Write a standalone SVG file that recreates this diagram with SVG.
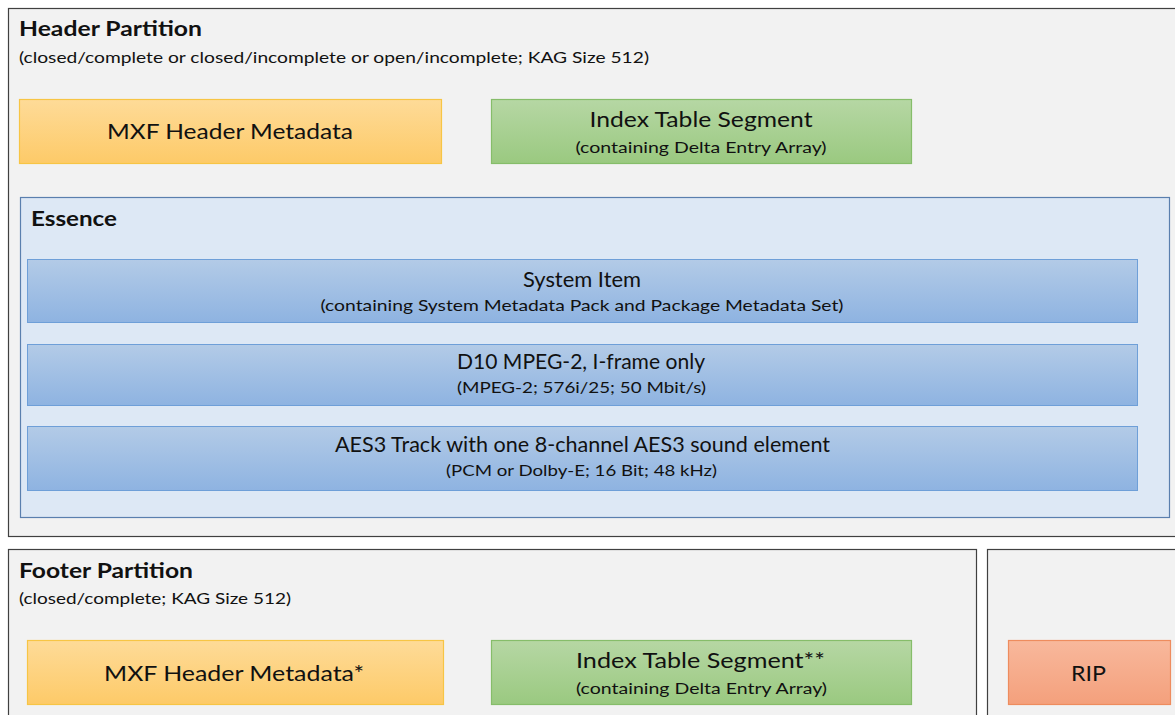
<svg xmlns="http://www.w3.org/2000/svg" width="1175" height="715" viewBox="0 0 1175 715">
<defs>
<linearGradient id="gOr" x1="0" y1="0" x2="0" y2="1"><stop offset="0" stop-color="#fedb98"/><stop offset="1" stop-color="#fdca68"/></linearGradient>
<linearGradient id="gGr" x1="0" y1="0" x2="0" y2="1"><stop offset="0" stop-color="#b6d7a4"/><stop offset="1" stop-color="#9ac980"/></linearGradient>
<linearGradient id="gBl" x1="0" y1="0" x2="0" y2="1"><stop offset="0" stop-color="#b3cbe7"/><stop offset="1" stop-color="#8eb3e1"/></linearGradient>
<linearGradient id="gRd" x1="0" y1="0" x2="0" y2="1"><stop offset="0" stop-color="#f8b89c"/><stop offset="1" stop-color="#f4a07c"/></linearGradient>
</defs>
<style>
.part{fill:#f2f2f2;stroke:#404040;stroke-width:1.2}
.ess{fill:#dde8f5;stroke:#5a7fae;stroke-width:1.2}
.or{fill:url(#gOr);stroke:#f7c545;stroke-width:1.2}
.gr{fill:url(#gGr);stroke:#86bd6a;stroke-width:1.2}
.bl{fill:url(#gBl);stroke:#6e9fd8;stroke-width:1}
.rd{fill:url(#gRd);stroke:#ee8c5e;stroke-width:1.2}
text{font-family:Lato,"Open Sans","Liberation Sans",sans-serif;fill:#111}
.h{font-weight:bold;font-size:21px}
.s{font-size:16px}
.m{font-size:21px;text-anchor:middle}
.ms{font-size:16px;text-anchor:middle}
</style>
<g id="header-partition">
<rect class="part" x="8.5" y="8.5" width="1175" height="528"/>
<text class="h" x="19" y="36" textLength="183" lengthAdjust="spacingAndGlyphs">Header Partition</text>
<text class="s" x="19" y="63" textLength="630" lengthAdjust="spacingAndGlyphs">(closed/complete or closed/incomplete or open/incomplete; KAG Size 512)</text>
</g>
<g id="header-metadata">
<rect class="or" x="19.5" y="99.5" width="422" height="64"/>
<text class="m" x="230" y="139" textLength="246" lengthAdjust="spacingAndGlyphs">MXF Header Metadata</text>
</g>
<g id="header-index">
<rect class="gr" x="491.5" y="99.5" width="420" height="64"/>
<text class="m" x="701" y="127" textLength="223" lengthAdjust="spacingAndGlyphs">Index Table Segment</text>
<text class="ms" x="701" y="153" textLength="251" lengthAdjust="spacingAndGlyphs">(containing Delta Entry Array)</text>
</g>
<g id="essence">
<rect class="ess" x="20.5" y="197.5" width="1149" height="320"/>
<text class="h" x="31" y="226" textLength="86" lengthAdjust="spacingAndGlyphs">Essence</text>
</g>
<g id="system-item">
<rect class="bl" x="27.5" y="259.5" width="1110" height="63"/>
<text class="m" x="582" y="287" textLength="118" lengthAdjust="spacingAndGlyphs">System Item</text>
<text class="ms" x="582" y="311" textLength="523" lengthAdjust="spacingAndGlyphs">(containing System Metadata Pack and Package Metadata Set)</text>
</g>
<g id="d10">
<rect class="bl" x="27.5" y="344.5" width="1110" height="61"/>
<text class="m" x="581" y="369" textLength="248" lengthAdjust="spacingAndGlyphs">D10 MPEG-2, I-frame only</text>
<text class="ms" x="581.5" y="393" textLength="249" lengthAdjust="spacingAndGlyphs">(MPEG-2; 576i/25; 50 Mbit/s)</text>
</g>
<g id="aes3">
<rect class="bl" x="27.5" y="426.5" width="1110" height="64"/>
<text class="m" x="582.5" y="452" textLength="495" lengthAdjust="spacingAndGlyphs">AES3 Track with one 8-channel AES3 sound element</text>
<text class="ms" x="581.5" y="476" textLength="271" lengthAdjust="spacingAndGlyphs">(PCM or Dolby-E; 16 Bit; 48 kHz)</text>
</g>
<g id="footer-partition">
<rect class="part" x="8.5" y="549.5" width="968" height="175"/>
<text class="h" x="19" y="578" textLength="174" lengthAdjust="spacingAndGlyphs">Footer Partition</text>
<text class="s" x="19" y="604" textLength="272" lengthAdjust="spacingAndGlyphs">(closed/complete; KAG Size 512)</text>
</g>
<g id="footer-metadata">
<rect class="or" x="27.5" y="640.5" width="416" height="64"/>
<text class="m" x="234" y="681" textLength="260" lengthAdjust="spacingAndGlyphs">MXF Header Metadata*</text>
</g>
<g id="footer-index">
<rect class="gr" x="491.5" y="640.5" width="420" height="64"/>
<text class="m" x="700.5" y="668" textLength="249" lengthAdjust="spacingAndGlyphs">Index Table Segment**</text>
<text class="ms" x="701.5" y="694" textLength="251" lengthAdjust="spacingAndGlyphs">(containing Delta Entry Array)</text>
</g>
<g id="rip-partition">
<rect class="part" x="987.5" y="549.5" width="200" height="175"/>
</g>
<g id="rip">
<rect class="rd" x="1008.5" y="640.5" width="162" height="64"/>
<text class="m" x="1088.5" y="681" textLength="35" lengthAdjust="spacingAndGlyphs">RIP</text>
</g>
<g id="connectors"/>
</svg>
